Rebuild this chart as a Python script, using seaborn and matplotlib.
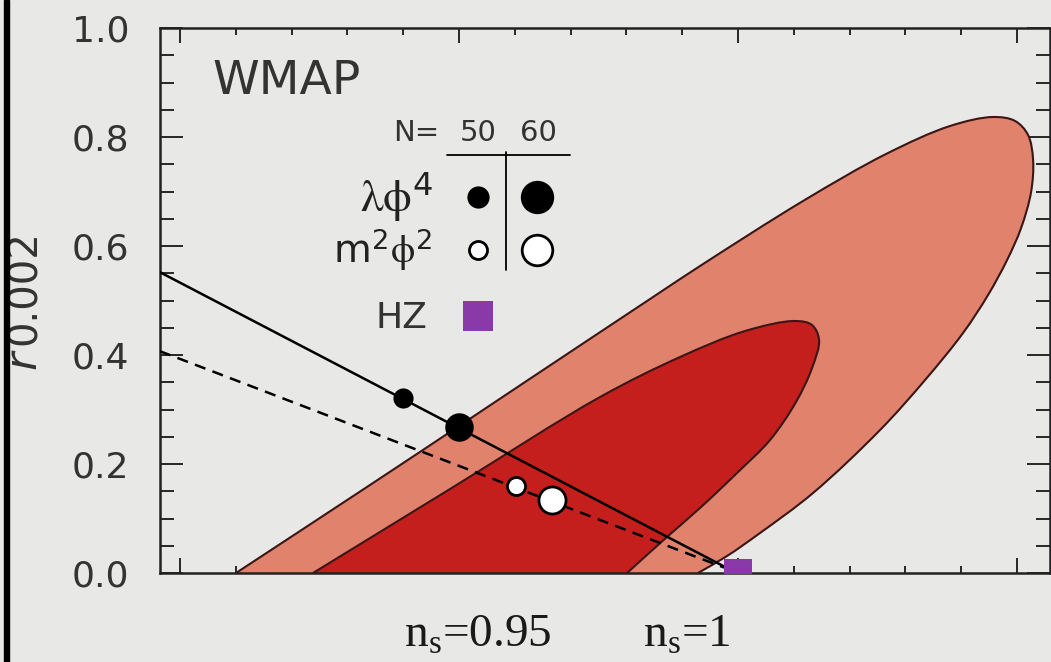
import numpy as np
import matplotlib
matplotlib.use("Agg")
import matplotlib.pyplot as plt
import seaborn as sns
from matplotlib.ticker import MultipleLocator, FormatStrFormatter
from matplotlib.patches import Rectangle, PathPatch
from matplotlib.path import Path

# ---------------- data ----------------
# boundary of the 95% (outer) WMAP region, from r=0 on the left, over the tip,
# back down to r=0 on the right
outer_ns = [0.91004, 0.93405, 0.95000, 0.96237, 0.98477, 0.99319, 1.01165,
            1.02652, 1.03799, 1.04570, 1.04964, 1.05197, 1.05287, 1.05251,
            1.05072, 1.04821, 1.04480, 1.04032, 1.03351, 1.02545, 1.01344,
            1.00394, 0.99803, 0.99283]
outer_r = [0.0000, 0.1615, 0.2697, 0.3541, 0.5064, 0.5633, 0.6826,
           0.7688, 0.8202, 0.8367, 0.8294, 0.8037, 0.7578, 0.6991,
           0.6330, 0.5743, 0.5101, 0.4404, 0.3541, 0.2624, 0.1468,
           0.0734, 0.0312, 0.0000]
# boundary of the 68% (inner) WMAP region
inner_ns = [0.92384, 0.94839, 0.97527, 0.98961, 1.00125, 1.01022, 1.01326,
            1.01452, 1.01326, 1.01039, 1.00573, 1.00000, 0.99319, 0.98746,
            0.98011]
inner_r = [0.0000, 0.1541, 0.3229, 0.3963, 0.4440, 0.4624, 0.4550,
           0.4275, 0.3761, 0.3138, 0.2440, 0.1853, 0.1193, 0.0679,
           0.0000]

# model lines
lphi4_line_ns = [0.8964, 0.9975]
lphi4_line_r = [0.552, 0.012]
m2phi2_line_ns = [0.8964, 0.9975]
m2phi2_line_r = [0.407, 0.010]

# model points (N = 50, 60)
lphi4_ns = [0.9400, 0.9500]
lphi4_r = [0.321, 0.268]
m2phi2_ns = [0.9602, 0.9667]
m2phi2_r = [0.159, 0.134]
hz_ns = [1.0]
hz_r = [0.0]

yticks = [0.0, 0.2, 0.4, 0.6, 0.8, 1.0]
bottom_labels = ["n$_\\mathregular{s}$=0.95", "n$_\\mathregular{s}$=1"]

# ---------------- style ----------------
BG = "#e8e8e6"
OUTER_C = "#e0826c"
INNER_C = "#c41f1c"
EDGE_C = "#3a1616"
PURPLE = "#8a3aa8"
TXT = "#333333"

sns.set_theme(style="ticks")
plt.rcParams["font.family"] = ["DejaVu Sans"]

fig = plt.figure(figsize=(10.51, 6.62), dpi=100, facecolor=BG)
ax = fig.add_axes([160 / 1051, 1 - 573 / 662, 890 / 1051, 545 / 662])
ax.set_facecolor(BG)

ISO = np.array([5580.0, 545.0])   # data -> roughly isotropic (pixel-like) scale


def boundary_paths(ns, r):
    """Smooth centripetal Catmull-Rom curve (as cubic Bezier segments) through
    the boundary points; returns the open edge path and the region path closed
    along r = 0 (below the axis, hidden by clipping)."""
    P = np.column_stack([ns, r]).astype(float)
    ext = np.vstack([2 * P[0] - P[1], P, 2 * P[-1] - P[-2]])
    verts = [P[0]]
    codes = [Path.MOVETO]
    for i in range(1, len(ext) - 2):
        p0, p1, p2, p3 = ext[i - 1], ext[i], ext[i + 1], ext[i + 2]
        d1 = np.linalg.norm((p1 - p0) * ISO) ** 0.5
        d2 = np.linalg.norm((p2 - p1) * ISO) ** 0.5
        d3 = np.linalg.norm((p3 - p2) * ISO) ** 0.5
        b1 = (d1 ** 2 * p2 - d2 ** 2 * p0 + (2 * d1 ** 2 + 3 * d1 * d2 + d2 ** 2) * p1) \
            / (3 * d1 * (d1 + d2))
        b2 = (d3 ** 2 * p1 - d2 ** 2 * p3 + (2 * d3 ** 2 + 3 * d3 * d2 + d2 ** 2) * p2) \
            / (3 * d3 * (d3 + d2))
        verts += [b1, b2, p2]
        codes += [Path.CURVE4] * 3
    edge = Path(verts, codes)
    fverts = verts + [np.array([P[-1, 0], -0.05]), np.array([P[0, 0], -0.05]), P[0]]
    fcodes = codes + [Path.LINETO, Path.LINETO, Path.CLOSEPOLY]
    return edge, Path(fverts, fcodes)


for ns, r, col, z in [(outer_ns, outer_r, OUTER_C, 1.0), (inner_ns, inner_r, INNER_C, 1.5)]:
    edge, region = boundary_paths(ns, r)
    ax.add_patch(PathPatch(region, facecolor=col, edgecolor="none", zorder=z))
    ax.add_patch(PathPatch(edge, facecolor="none", edgecolor=EDGE_C, lw=1.5,
                           zorder=z + 0.1))

# model lines
sns.lineplot(x=lphi4_line_ns, y=lphi4_line_r, ax=ax, color="black", lw=1.8,
             sort=False, zorder=3)
sns.lineplot(x=m2phi2_line_ns, y=m2phi2_line_r, ax=ax, color="black", lw=1.8,
             sort=False, zorder=3, linestyle=(0, (4.5, 3)))

# model points
small, large = 14.5, 20.5
ax.scatter(lphi4_ns[:1], lphi4_r[:1], s=small ** 2, c="black", zorder=4, lw=0)
ax.scatter(lphi4_ns[1:], lphi4_r[1:], s=large ** 2, c="black", zorder=4, lw=0)
ax.scatter(m2phi2_ns[:1], m2phi2_r[:1], s=(small - 1.5) ** 2, c="white",
           edgecolors="black", linewidths=2.0, zorder=4)
ax.scatter(m2phi2_ns[1:], m2phi2_r[1:], s=(large - 1) ** 2, c="white",
           edgecolors="black", linewidths=2.0, zorder=4)
sns.scatterplot(x=hz_ns, y=hz_r, ax=ax, marker="s", s=19.5 ** 2, color=PURPLE,
                linewidth=0, zorder=5)

# ---------------- inset legend (data coordinates) ----------------
ax.text(0.9059, 0.901, "WMAP", fontsize=34, color=TXT, va="center", ha="left")
ax.text(0.9464, 0.807, "N=", fontsize=21, color=TXT, va="center", ha="right")
ax.text(0.9534, 0.807, "50", fontsize=21, color=TXT, va="center", ha="center")
ax.text(0.9643, 0.807, "60", fontsize=21, color=TXT, va="center", ha="center")
ax.plot([0.9479, 0.9699], [0.767, 0.767], color="black", lw=1.3, zorder=6)
ax.plot([0.9584, 0.9584], [0.773, 0.556], color="black", lw=1.3, zorder=6)

ax.text(0.9452, 0.690, r"$\mathrm{\lambda\phi}^\mathregular{4}$", fontsize=33,
        color="#222222", va="center", ha="right", math_fontfamily="stix")
ax.text(0.9452, 0.593, r"m$^\mathregular{2}$$\mathrm{\phi}^\mathregular{2}$",
        fontsize=28, color="#222222", va="center", ha="right",
        math_fontfamily="stix")
ax.text(0.9443, 0.468, "HZ", fontsize=26, color=TXT, va="center", ha="right")

ax.scatter([0.9534], [0.690], s=16 ** 2, c="black", zorder=6, lw=0)
ax.scatter([0.9640], [0.690], s=24 ** 2, c="black", zorder=6, lw=0)
ax.scatter([0.9534], [0.593], s=13 ** 2, c="white", edgecolors="black",
           linewidths=2.0, zorder=6)
ax.scatter([0.9640], [0.593], s=22 ** 2, c="white", edgecolors="black",
           linewidths=2.0, zorder=6)
ax.scatter([0.9534], [0.4716], s=22 ** 2, c=PURPLE, marker="s", zorder=6, lw=0)

# ---------------- axes ----------------
ax.set_xlim(0.89642, 1.0559)
ax.set_ylim(0.0, 1.0)
ax.xaxis.set_major_locator(MultipleLocator(0.05))
ax.xaxis.set_minor_locator(MultipleLocator(0.01))
ax.yaxis.set_minor_locator(MultipleLocator(0.05))
ax.set_yticks(yticks)
ax.yaxis.set_major_formatter(FormatStrFormatter("%.1f"))
ax.tick_params(axis="x", which="major", direction="in", length=11, width=1.4,
               top=True, bottom=True, labelbottom=False)
ax.tick_params(axis="x", which="minor", direction="in", length=5, width=1.4,
               top=True, bottom=True)
ax.tick_params(axis="y", which="major", direction="in", length=16.5, width=1.4,
               left=True, right=True, labelsize=26, labelcolor=TXT, pad=22)
ax.tick_params(axis="y", which="minor", direction="in", length=10, width=1.4,
               left=True, right=True)
for s in ax.spines.values():
    s.set_visible(True)
    s.set_linewidth(1.8)
    s.set_color("#222222")
ax.set_xlabel("")
ax.set_ylabel("")

# bottom labels (slide text)
fig.text(478 / 1051, 1 - 647 / 662, bottom_labels[0], fontsize=34,
         family="Liberation Serif", color="#1a1a1a", ha="center", va="baseline")
fig.text(687 / 1051, 1 - 647 / 662, bottom_labels[1], fontsize=34,
         family="Liberation Serif", color="#1a1a1a", ha="center", va="baseline")

# y label (at the very left edge of the slide)
fig.text(25 / 1051, 1 - 288 / 662, "0.002", fontsize=29, rotation=90,
         color="#333333", ha="center", va="center")
fig.text(23 / 1051, 1 - 360 / 662, "r", fontsize=32, rotation=90, style="italic",
         color="#333333", ha="center", va="center")

# black frame bar at the left edge
fig.add_artist(Rectangle((4 / 1051, 0), 5 / 1051, 1, transform=fig.transFigure,
                         color="black", zorder=10))

fig.savefig("out.png", dpi=100, facecolor=BG)
